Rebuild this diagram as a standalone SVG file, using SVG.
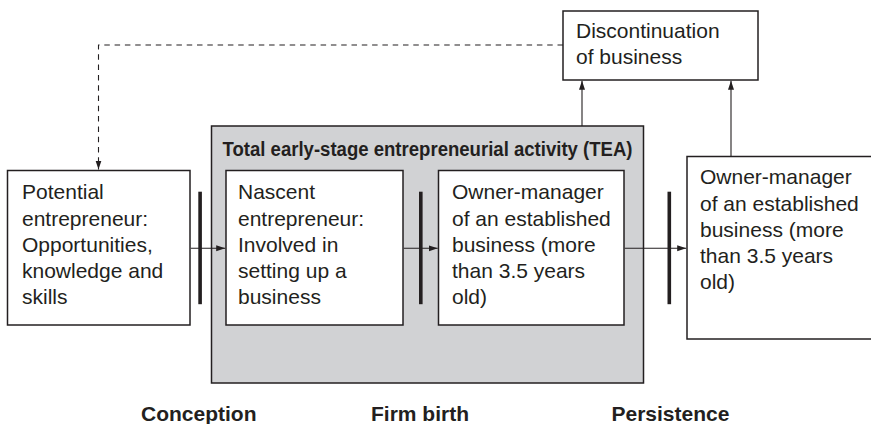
<svg xmlns="http://www.w3.org/2000/svg" width="871" height="424" viewBox="0 0 871 424">
  <style>
    .box { fill: #ffffff; stroke: #231f20; stroke-width: 1.5; }
    .tea { fill: #d1d2d4; stroke: #231f20; stroke-width: 1.5; }
    .label { font-family: "Liberation Sans", Arial, Helvetica, sans-serif; font-size: 21px; fill: #231f20; }
    .bold { font-family: "Liberation Sans", Arial, Helvetica, sans-serif; font-size: 21px; font-weight: bold; fill: #231f20; }
    .title { font-family: "Liberation Sans", Arial, Helvetica, sans-serif; font-size: 19.5px; font-weight: bold; fill: #231f20; }
    .link { fill: none; stroke: #231f20; stroke-width: 1.1; }
    .dashed { stroke-dasharray: 5.5 4.8; }
    .bar { fill: #231f20; }
  </style>
  <defs>
    <marker id="arrow" markerUnits="userSpaceOnUse" markerWidth="10" markerHeight="7" refX="9" refY="3" orient="auto">
      <path d="M0,0 L9,3 L0,6 z" fill="#231f20"/>
    </marker>
  </defs>

  <!-- TEA container -->
  <g id="tea">
    <rect class="tea" x="211.5" y="126" width="432" height="257"/>
    <text class="title" x="222.5" y="156" textLength="410" lengthAdjust="spacingAndGlyphs">Total early-stage entrepreneurial activity (TEA)</text>
  </g>

  <g id="discontinuation">
    <rect class="box" x="563" y="11" width="195" height="69"/>
    <text class="label" x="576">
      <tspan x="576" y="37.7">Discontinuation</tspan>
      <tspan x="576" y="64">of business</tspan>
    </text>
  </g>

  <g id="potential">
    <rect class="box" x="7.5" y="170.5" width="182.5" height="154.5"/>
    <text class="label">
      <tspan x="22" y="199.3">Potential</tspan>
      <tspan x="22" y="225.5">entrepreneur:</tspan>
      <tspan x="22" y="251.7">Opportunities,</tspan>
      <tspan x="22" y="278">knowledge and</tspan>
      <tspan x="22" y="304.2">skills</tspan>
    </text>
  </g>

  <g id="nascent">
    <rect class="box" x="226" y="170.5" width="177" height="154.5"/>
    <text class="label">
      <tspan x="238" y="199.3">Nascent</tspan>
      <tspan x="238" y="225.5">entrepreneur:</tspan>
      <tspan x="238" y="251.7">Involved in</tspan>
      <tspan x="238" y="278">setting up a</tspan>
      <tspan x="238" y="304.2">business</tspan>
    </text>
  </g>

  <g id="owner-tea">
    <rect class="box" x="438.5" y="170.5" width="185.5" height="154.5"/>
    <text class="label">
      <tspan x="452" y="199.3">Owner-manager</tspan>
      <tspan x="452" y="225.5">of an established</tspan>
      <tspan x="452" y="251.7">business (more</tspan>
      <tspan x="452" y="278">than 3.5 years</tspan>
      <tspan x="452" y="304.2">old)</tspan>
    </text>
  </g>

  <g id="owner-established">
    <rect class="box" x="687" y="156.5" width="200" height="182.5"/>
    <text class="label">
      <tspan x="700" y="184.3">Owner-manager</tspan>
      <tspan x="700" y="210.5">of an established</tspan>
      <tspan x="700" y="236.7">business (more</tspan>
      <tspan x="700" y="263">than 3.5 years</tspan>
      <tspan x="700" y="289.2">old)</tspan>
    </text>
  </g>

  <!-- stage labels -->
  <g id="stages">
    <text class="bold" x="141" y="420.5">Conception</text>
    <text class="bold" x="371" y="420.5">Firm birth</text>
    <text class="bold" x="611.5" y="420.5">Persistence</text>
  </g>

  <g id="connectors">
    <path class="link dashed" d="M563,45 H98.5 V169.5" marker-end="url(#arrow)"/>
    <path class="link" d="M582,126 V80.8" marker-end="url(#arrow)"/>
    <path class="link" d="M731,156 V80.8" marker-end="url(#arrow)"/>
    <path class="link" d="M190.8,248.3 H225.2" marker-end="url(#arrow)"/>
    <path class="link" d="M403.8,248.3 H437.7" marker-end="url(#arrow)"/>
    <path class="link" d="M624.8,248.3 H686.2" marker-end="url(#arrow)"/>
    <!-- stage gates -->
    <rect class="bar" x="198.3" y="191.7" width="3.6" height="112.5"/>
    <rect class="bar" x="419" y="191.7" width="3.6" height="112.5"/>
    <rect class="bar" x="667.5" y="191.7" width="3.6" height="112.5"/>
  </g>
</svg>
